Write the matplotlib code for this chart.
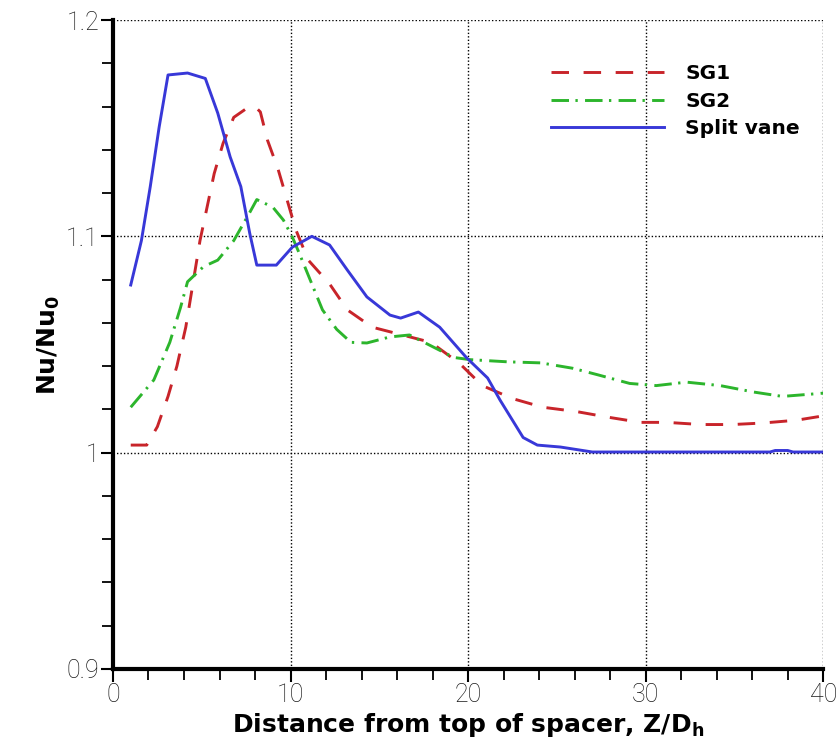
import numpy as np
import matplotlib
matplotlib.use("Agg")
import matplotlib.pyplot as plt
from matplotlib.ticker import MultipleLocator

sg1_z = [1.0, 1.9, 2.5, 3.1, 3.6, 4.1, 4.6, 4.9, 5.3, 5.7, 6.2, 6.8, 7.5, 8.0, 8.3, 8.7,
         9.3, 9.8, 10.3, 11.0, 12.2, 13.2, 14.6, 16.3, 17.9, 19.5, 20.8, 22.5, 24.2,
         26.1, 27.8, 29.7, 31.2, 33.1, 34.9, 36.6, 38.5, 40.0]
sg1_nu = [1.0035, 1.0035, 1.012, 1.026, 1.040, 1.058, 1.083, 1.098, 1.1135, 1.129, 1.143,
          1.155, 1.159, 1.160, 1.1575, 1.1445, 1.131, 1.117, 1.103, 1.089, 1.078, 1.066,
          1.058, 1.0544, 1.051, 1.0414, 1.031, 1.025, 1.021, 1.019, 1.0165, 1.014, 1.014,
          1.013, 1.013, 1.0137, 1.015, 1.017]

sg2_z = [1.0, 2.3, 3.2, 3.8, 4.2, 5.1, 5.9, 6.8, 7.7, 8.1, 9.0, 9.6, 10.1, 10.5, 11.1,
         11.8, 12.6, 13.4, 14.3, 15.6, 16.7, 18.0, 19.2, 20.1, 22.2, 24.1, 25.9, 27.3,
         29.1, 30.6, 32.3, 34.2, 36.1, 37.7, 40.0]
sg2_nu = [1.021, 1.0336, 1.051, 1.067, 1.079, 1.086, 1.089, 1.098, 1.111, 1.117, 1.1135,
          1.1075, 1.0997, 1.092, 1.080, 1.066, 1.057, 1.051, 1.0507, 1.0535, 1.0544,
          1.049, 1.044, 1.043, 1.042, 1.0415, 1.039, 1.036, 1.032, 1.031, 1.0326, 1.031,
          1.028, 1.026, 1.0275]

sv_z = [1.0, 1.6, 2.1, 2.6, 3.1, 4.2, 5.2, 5.9, 6.6, 7.2, 7.7, 8.1, 9.2, 10.1, 11.2,
        12.2, 13.2, 14.3, 15.6, 16.2, 17.2, 18.4, 19.9, 21.1, 21.8, 23.1, 23.9, 25.2,
        27.0, 37.0, 37.3, 38.0, 38.3, 40.0]
sv_nu = [1.0775, 1.098, 1.123, 1.1505, 1.1746, 1.1755, 1.173, 1.157, 1.1367, 1.123,
         1.1015, 1.0867, 1.0867, 1.095, 1.100, 1.096, 1.0844, 1.072, 1.0636, 1.0622,
         1.065, 1.058, 1.044, 1.0345, 1.0243, 1.007, 1.0035, 1.0026, 1.0003, 1.0003,
         1.001, 1.001, 1.0003, 1.0003]

x_ticks = [0, 10, 20, 30, 40]
x_labels = ["0", "10", "20", "30", "40"]
y_ticks = [0.9, 1.0, 1.1, 1.2]
y_labels = ["0.9", "1", "1.1", "1.2"]

fig = plt.figure(figsize=(8.4, 7.53), dpi=100)
ax = fig.add_axes([0.1345, 0.1116, 0.8455, 0.8618])

ax.plot(sg1_z, sg1_nu, color="#c8242a", lw=2.1, dashes=(6, 5), label="SG1")
ax.plot(sg2_z, sg2_nu, color="#2cb52c", lw=2.1, dashes=(6, 2.2, 0.8, 2.5), label="SG2")
ax.plot(sv_z, sv_nu, color="#3838d8", lw=2.1, label="Split vane")

ax.set_xlim(0, 40)
ax.set_ylim(0.9, 1.2)
ax.xaxis.set_minor_locator(MultipleLocator(2))
ax.yaxis.set_minor_locator(MultipleLocator(0.02))
ax.set_xticks(x_ticks)
ax.set_xticklabels(x_labels)
ax.set_yticks(y_ticks)
ax.set_yticklabels(y_labels)

for lab in ax.get_xticklabels() + ax.get_yticklabels():
    lab.set_family(["Roboto", "DejaVu Sans"])
    lab.set_fontweight("light")
    lab.set_fontsize(18)
    lab.set_color("#1a1a1a")

ax.tick_params(which="major", direction="out", length=9, width=1.5, pad=1)
ax.tick_params(which="minor", direction="out", length=8, width=1.3)

for side in ("top", "right"):
    ax.spines[side].set_visible(False)
for side in ("left", "bottom"):
    ax.spines[side].set_linewidth(3)

ax.grid(True, which="major", color="black", linestyle=(0, (1, 1.5)), linewidth=1)
ax.set_axisbelow(True)

ax.set_xlabel("Distance from top of spacer, Z/D$_\\mathregular{h}$", fontsize=18,
              fontweight="bold", family="DejaVu Sans", labelpad=3)
ax.set_ylabel("Nu/Nu$_\\mathregular{0}$", fontsize=18, fontweight="bold",
              family="DejaVu Sans", labelpad=3)

leg = ax.legend(loc="upper left", bbox_to_anchor=(0.606, 0.944), frameon=False,
                handlelength=5.6, handletextpad=1.05, labelspacing=0.42,
                borderaxespad=0,
                prop={"family": "DejaVu Sans", "weight": "bold", "size": 14.5})

fig.savefig("out.png", dpi=100)
